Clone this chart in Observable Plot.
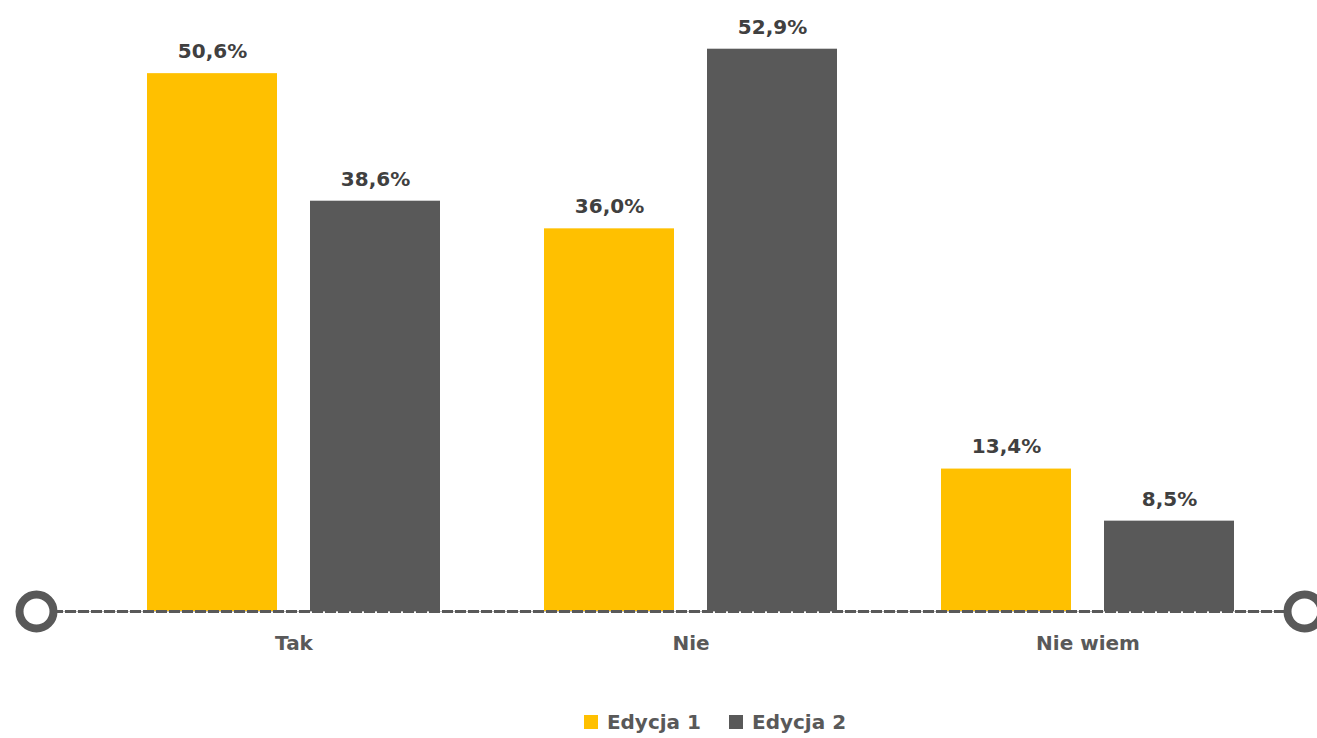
<!DOCTYPE html>
<html>
<head>
<meta charset="utf-8">
<script src="https://cdn.jsdelivr.net/npm/d3@7"></script>
<script src="https://cdn.jsdelivr.net/npm/@observablehq/plot@0.6"></script>
<style>
  html, body { margin: 0; padding: 0; background: #fff; }
  #chart { width: 1317px; }
  .legend { display: flex; justify-content: center; align-items: center; margin-top: 30px; height: 24px;
            padding-left: 113px;
            font-family: "DejaVu Sans", sans-serif; font-weight: bold; font-size: 20px; color: #595959; }
  .legend .item { display: flex; align-items: center; margin: 0 14px; }
  .legend .sw { width: 14px; height: 14px; margin-right: 9px; display: inline-block; }
</style>
</head>
<body>
<div id="chart"></div>
<script>
const categories = ["Tak", "Nie", "Nie wiem"];
const series = ["Edycja 1", "Edycja 2"];
const edycja1 = [50.6, 36.0, 13.4];
const edycja2 = [38.6, 52.9, 8.5];
const colors = ["#FFC000", "#595959"];

const data = categories.flatMap((c, i) => [
  {category: c, series: series[0], value: edycja1[i]},
  {category: c, series: series[1], value: edycja2[i]}
]);

const fmt = v => v.toFixed(1).replace(".", ",") + "%";

const plot = Plot.plot({
  width: 1317,
  height: 680,
  marginLeft: 94,
  marginRight: 30,
  marginTop: 20,
  marginBottom: 69,
  style: {fontFamily: "'DejaVu Sans', sans-serif", fontSize: "20px", fontWeight: "bold", color: "#595959", background: "#fff"},
  fx: {domain: categories, padding: 0, label: null, tickSize: 0, tickPadding: 24},
  x: {domain: series, paddingInner: 0.201, paddingOuter: 0.3125, axis: null},
  y: {domain: [0, 55.6], axis: null},
  color: {domain: series, range: colors},
  marks: [
    Plot.barY(data, {fx: "category", x: "series", y: "value", fill: "series"}),
    Plot.text(data, {fx: "category", x: "series", y: "value", text: d => fmt(d.value), dy: -22,
      fontSize: 20, fontWeight: "bold", fill: "#404040"}),
    Plot.frame({facet: "super", anchor: "bottom", insetLeft: -42, insetRight: -2, stroke: "#bfbfbf", strokeWidth: 1}),
    Plot.frame({facet: "super", anchor: "bottom", insetLeft: -42, insetRight: -2, stroke: "#595959", strokeWidth: 3, strokeDasharray: "8,5"}),
    Plot.dot([0], {facet: "super", frameAnchor: "bottom-left", dx: -59, r: 17,
      stroke: "#595959", strokeWidth: 8, fill: "white"}),
    Plot.dot([0], {facet: "super", frameAnchor: "bottom-right", dx: 18, r: 17,
      stroke: "#595959", strokeWidth: 8, fill: "white"})
  ]
});
document.getElementById("chart").appendChild(plot);

const legend = document.createElement("div");
legend.className = "legend";
series.forEach((s, i) => {
  const item = document.createElement("span");
  item.className = "item";
  const sw = document.createElement("span");
  sw.className = "sw";
  sw.style.background = colors[i];
  item.appendChild(sw);
  item.appendChild(document.createTextNode(s));
  legend.appendChild(item);
});
document.getElementById("chart").appendChild(legend);
</script>
</body>
</html>
